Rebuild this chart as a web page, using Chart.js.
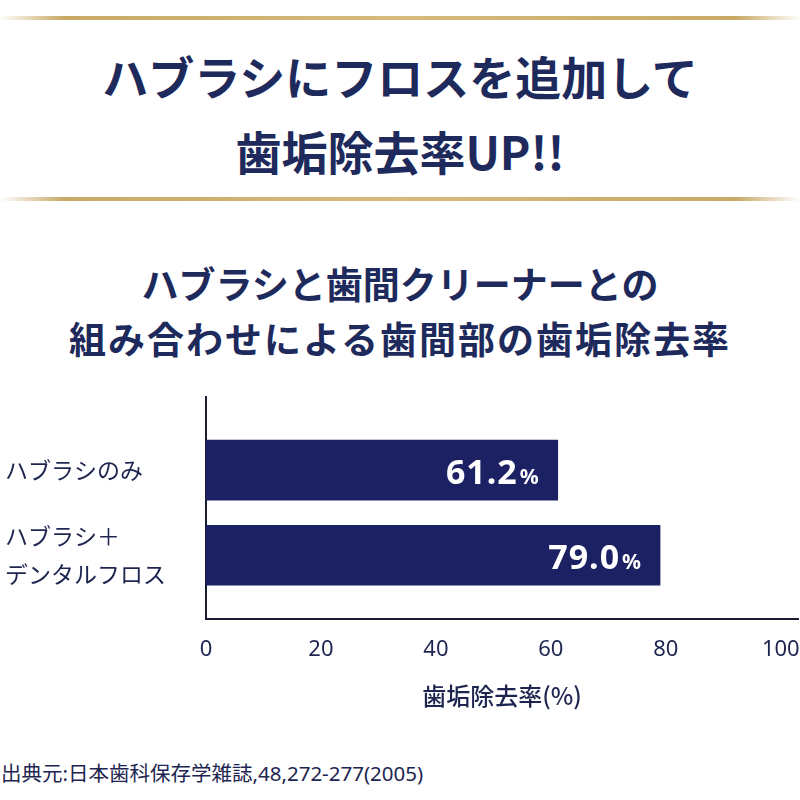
<!DOCTYPE html>
<html>
<head>
<meta charset="utf-8">
<script src="https://cdn.jsdelivr.net/npm/chart.js@4"></script>
<style>
  html, body { margin: 0; padding: 0; background: #fff; }
  body { width: 800px; height: 800px; position: relative; overflow: hidden;
         font-family: "Noto Sans CJK JP", "Noto Sans", sans-serif; }
  .gold { position: absolute; left: 0; width: 800px; height: 4px;
          background: linear-gradient(to right, rgba(205,175,105,0) 0%, #c9a964 8%, #d6bb7b 50%, #c9a964 92%, rgba(205,175,105,0) 100%); }
  .line { position: absolute; left: 0; width: 800px; text-align: center; color: #1e2a5c;
          font-family: "Noto Sans CJK JP", sans-serif; font-weight: 700; white-space: nowrap; }
  .t1 { font-size: 46px; line-height: 60px; height: 60px; }
  .t2 { font-size: 37px; line-height: 50px; height: 50px; }
  #src { position: absolute; left: 1px; top: 760px; font-size: 20.5px; line-height: 26px; color: #1d2550;
         font-family: "Noto Sans", "Noto Sans CJK JP", sans-serif; white-space: nowrap; }
  #wrap { position: absolute; left: 0; top: 380px; width: 800px; height: 330px; }
</style>
</head>
<body>
<div class="gold" style="top:16px"></div>
<div class="line t1" style="top:45px">ハブラシにフロスを追加して</div>
<div class="line t1" style="top:120px">歯垢除去率UP!!</div>
<div class="gold" style="top:197px"></div>
<div class="line t2" style="top:258px">ハブラシと歯間クリーナーとの</div>
<div class="line t2" style="top:313px; letter-spacing:2px">組み合わせによる歯間部の歯垢除去率</div>
<div id="wrap"><canvas id="c" width="800" height="330"></canvas></div>
<div id="src">出典元:日本歯科保存学雑誌,48,272-277(2005)</div>
<script>
const categories = ['ハブラシのみ', ['ハブラシ＋', 'デンタルフロス']];
const values = [61.2, 79.0];
const xTicks = [0, 20, 40, 60, 80, 100];
const valueLabels = ['61.2', '79.0'];
const xTitle = '歯垢除去率(%)';

const navy = '#1b2162';
const textColor = '#1d2550';

const valueLabelPlugin = {
  id: 'valueLabels',
  afterDatasetsDraw(chart) {
    const ctx = chart.ctx;
    const meta = chart.getDatasetMeta(0);
    meta.data.forEach((bar, i) => {
      const right = bar.x - 19;
      const baseY = bar.y + 14;
      ctx.save();
      ctx.fillStyle = '#ffffff';
      ctx.textBaseline = 'alphabetic';
      ctx.textAlign = 'right';
      ctx.font = 'bold 21px "Noto Sans", sans-serif';
      ctx.fillText('%', right, baseY);
      const pw = ctx.measureText('%').width;
      ctx.font = 'bold 34px "Noto Sans", sans-serif';
      ctx.letterSpacing = '1px';
      ctx.fillText(valueLabels[i], right - pw - 2, baseY);
      ctx.restore();
    });
  }
};

new Chart(document.getElementById('c'), {
  type: 'bar',
  data: {
    datasets: [{
      data: values.map((v, i) => ({ x: v, y: i })),
      backgroundColor: navy,
      borderWidth: 0,
      barThickness: 60
    }]
  },
  plugins: [valueLabelPlugin],
  options: {
    indexAxis: 'y',
    responsive: false,
    animation: false,
    layout: { padding: { top: 17, left: 5, right: 2, bottom: 0 } },
    plugins: { legend: { display: false }, title: { display: false }, tooltip: { enabled: false } },
    scales: {
      x: {
        type: 'linear',
        min: 0,
        max: 103,
        offset: false,
        afterBuildTicks: s => { s.ticks = xTicks.map(v => ({ value: v })); },
        afterFit: s => { s.height = 91; s.paddingLeft = 0; s.paddingRight = 0; },
        grid: { display: false, drawTicks: false },
        border: { display: true, color: '#1a1c30', width: 2 },
        ticks: { color: textColor, padding: 18, font: { family: '"Noto Sans", sans-serif', size: 22 } },
        title: { display: true, text: xTitle, color: textColor, padding: { top: 4, bottom: 0 },
                 font: { family: '"Noto Sans CJK JP", sans-serif', size: 24, weight: '500' } }
      },
      y: {
        type: 'linear',
        reverse: true,
        offset: false,
        grace: 0,
        min: -0.86,
        max: 1.75,
        afterBuildTicks: s => { s.ticks = categories.map((c, i) => ({ value: i })); },
        afterFit: s => { s.width = 201; s.paddingTop = 0; s.paddingBottom = 0; },
        grid: { display: false, drawTicks: false, offset: false },
        border: { display: true, color: '#1a1c30', width: 2 },
        ticks: {
          color: textColor,
          crossAlign: 'far',
          padding: 10,
          font: { family: '"Noto Sans CJK JP", sans-serif', size: 23, lineHeight: 1.62 },
          callback: v => categories[v]
        }
      }
    }
  }
});
</script>
</body>
</html>
